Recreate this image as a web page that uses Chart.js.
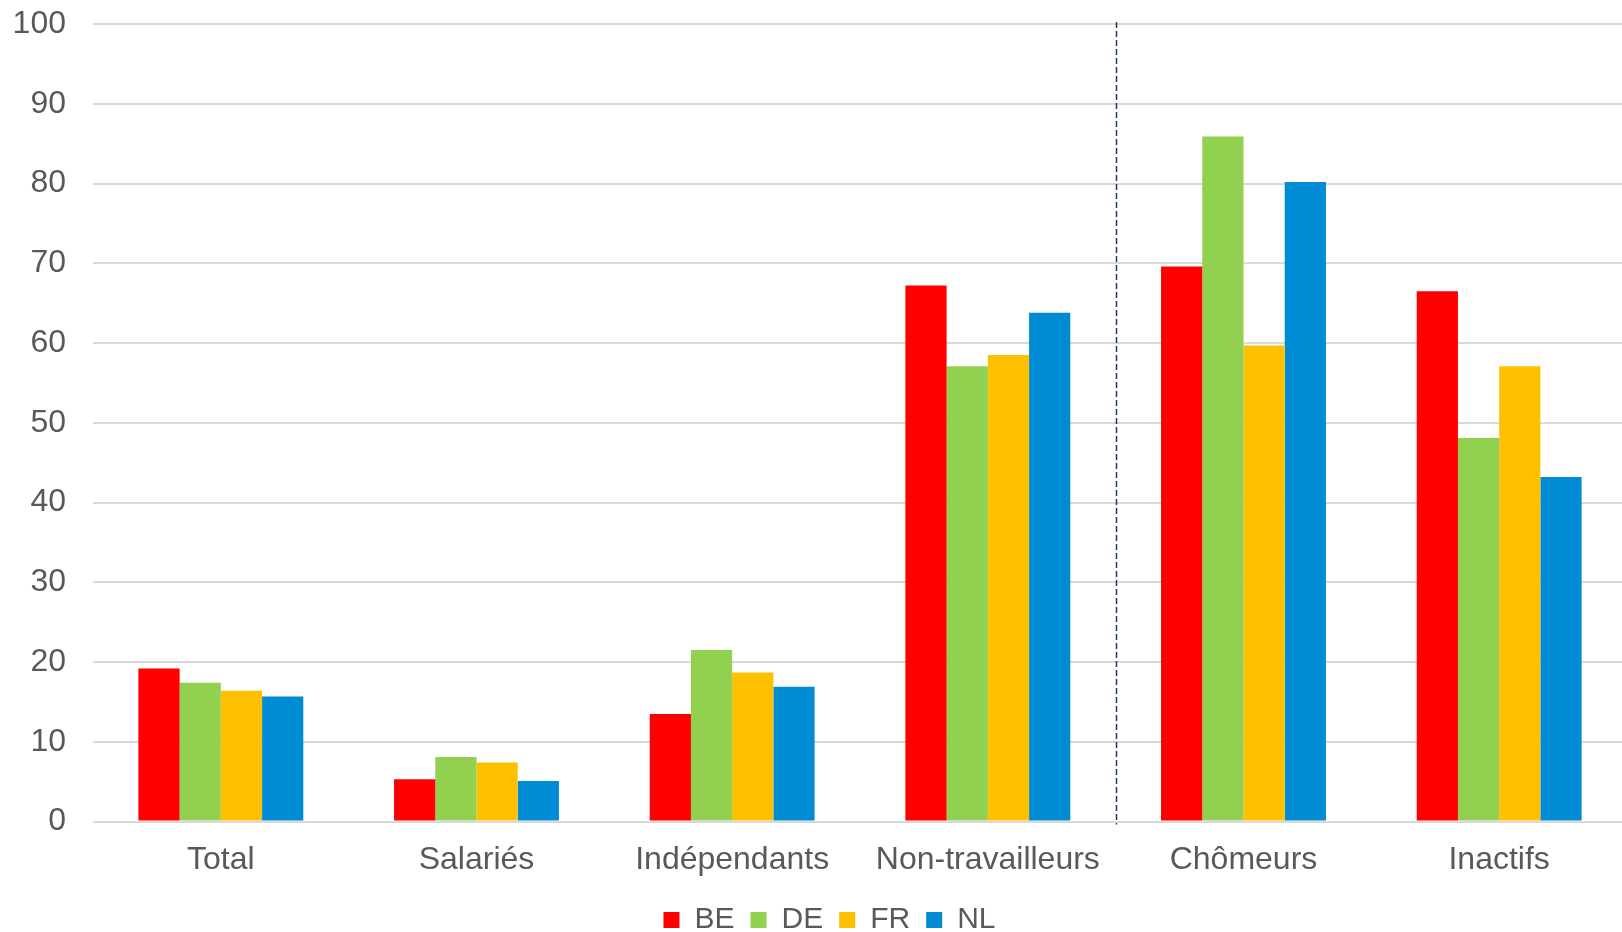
<!DOCTYPE html>
<html>
<head>
<meta charset="utf-8">
<script src="https://cdn.jsdelivr.net/npm/chart.js@4/dist/chart.umd.min.js"></script>
<style>
html,body{margin:0;padding:0;background:#fff;overflow:hidden;}
#wrap{width:1627px;height:932px;position:relative;}
</style>
</head>
<body>
<div id="wrap"><canvas id="c"></canvas></div>
<script>
const categories = ["Total", "Salariés", "Indépendants", "Non-travailleurs", "Chômeurs", "Inactifs"];
const seriesNames = ["BE", "DE", "FR", "NL"];
const valuesBE = [19.2, 5.3, 13.5, 67.2, 69.6, 66.5];
const valuesDE = [17.4, 8.1, 21.5, 57.1, 85.9, 48.1];
const valuesFR = [16.4, 7.4, 18.7, 58.5, 59.7, 57.1];
const valuesNL = [15.7, 5.1, 16.9, 63.8, 80.2, 43.2];
const colors = ["#FF0000", "#92D050", "#FFC000", "#008BD5"];
const separatorAfterIndex = 3; // dashed line between Non-travailleurs and Chômeurs

const FONT = "'Liberation Sans', Arial, sans-serif";
const TEXT = "#595959";

const separatorPlugin = {
  id: 'separator',
  afterLayout(chart) {
    if (chart.legend) { chart.legend.left += 16; chart.legend.right += 16; }
  },
  afterDatasetsDraw(chart) {
    const x = chart.scales.x;
    const y = chart.scales.y;
    const px = (x.getPixelForValue(separatorAfterIndex) + x.getPixelForValue(separatorAfterIndex + 1)) / 2;
    const ctx = chart.ctx;
    ctx.save();
    ctx.strokeStyle = "#1F3864";
    ctx.lineWidth = 1.5;
    ctx.setLineDash([6, 3]);
    ctx.beginPath();
    ctx.moveTo(Math.round(px) + 0.5, y.getPixelForValue(y.max) - 2);
    ctx.lineTo(Math.round(px) + 0.5, y.getPixelForValue(0) + 3);
    ctx.stroke();
    ctx.restore();
  }
};

const data = {
  labels: categories,
  datasets: [valuesBE, valuesDE, valuesFR, valuesNL].map((v, i) => ({
    label: seriesNames[i],
    data: v,
    backgroundColor: colors[i],
    borderWidth: 0,
    barPercentage: 1.0,
    categoryPercentage: 0.645
  }))
};

new Chart(document.getElementById('c'), {
  type: 'bar',
  data,
  plugins: [separatorPlugin],
  options: {
    responsive: true,
    maintainAspectRatio: false,
    animation: false,
    layout: { padding: { top: 24, left: 0, right: 0, bottom: -13 } },
    plugins: {
      tooltip: { enabled: false },
      legend: {
        position: 'bottom',
        labels: {
          color: TEXT,
          font: { family: FONT, size: 30 },
          boxWidth: 16,
          boxHeight: 16,
          padding: 16
        }
      }
    },
    scales: {
      x: {
        grid: { display: false },
        border: { display: false },
        afterFit(scale) { scale.height -= 1; },
        ticks: {
          color: TEXT,
          font: { family: FONT, size: 32 },
          padding: 11,
          maxRotation: 0,
          autoSkip: false
        }
      },
      y: {
        min: 0,
        max: 100,
        afterFit(scale) { scale.width = 93; },
        border: { display: false },
        grid: { color: "#D9D9D9", lineWidth: 2, drawTicks: true, tickLength: 27, tickColor: "rgba(0,0,0,0)" },
        ticks: {
          stepSize: 10,
          color: TEXT,
          font: { family: FONT, size: 32 },
          padding: 0
        }
      }
    }
  }
});
</script>
</body>
</html>
